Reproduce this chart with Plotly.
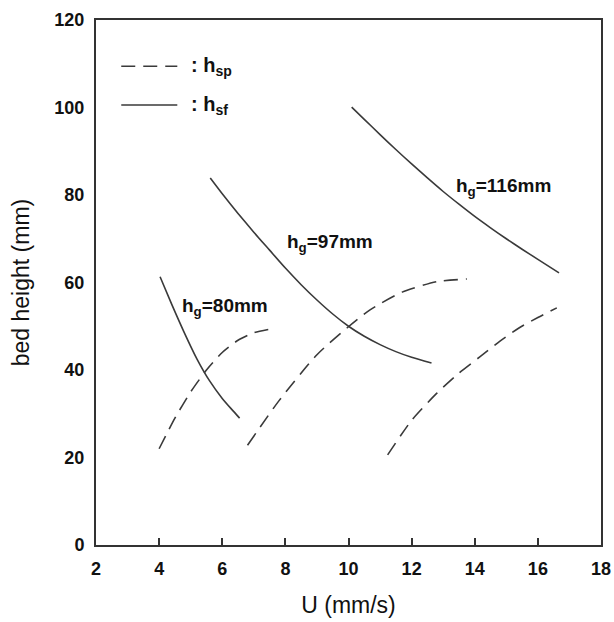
import plotly.graph_objects as go

# h_g = 80 mm
u80_sf = [4.03, 4.4, 4.8, 5.2, 5.6, 6.0, 6.3, 6.55]
h80_sf = [61.3, 55.0, 48.5, 42.5, 37.5, 33.5, 31.0, 29.0]
u80_sp = [4.0, 4.5, 5.0, 5.5, 6.0, 6.5, 7.0, 7.5]
h80_sp = [22.0, 29.0, 35.0, 40.0, 44.0, 46.8, 48.5, 49.3]

# h_g = 97 mm
u97_sf = [5.62, 6.0, 6.5, 7.0, 7.5, 8.0, 8.5, 9.0, 9.5, 10.0, 10.5, 11.0, 11.5, 12.0, 12.63]
h97_sf = [83.9, 80.3, 75.8, 71.5, 67.4, 63.3, 59.5, 56.0, 52.8, 50.0, 47.7, 45.8, 44.2, 42.9, 41.6]
u97_sp = [6.8, 7.8, 9.0, 9.95, 10.67, 11.7, 12.8, 13.75]
h97_sp = [22.8, 33.0, 43.5, 49.6, 53.7, 57.8, 60.2, 60.8]

# h_g = 116 mm
u116_sf = [10.1, 10.5, 11.0, 11.5, 12.0, 12.5, 13.0, 13.5, 14.0, 14.5, 15.0, 15.5, 16.0, 16.67]
h116_sf = [100.1, 97.3, 93.8, 90.4, 87.1, 83.9, 80.8, 77.9, 75.1, 72.5, 70.0, 67.6, 65.3, 62.2]
u116_sp = [11.24, 12.0, 12.8, 13.5, 14.16, 14.8, 15.4, 16.0, 16.6]
h116_sp = [20.6, 28.5, 34.7, 39.3, 43.0, 46.6, 49.6, 52.0, 54.2]

# labels
label_text = ["h<sub>g</sub>=80mm", "h<sub>g</sub>=97mm", "h<sub>g</sub>=116mm"]
label_u = [6.1, 9.4, 14.9]
label_h = [54.4, 69.0, 81.8]

legend_text = [": h<sub>sp</sub>", ": h<sub>sf</sub>"]

x_ticks = [2, 4, 6, 8, 10, 12, 14, 16, 18]
y_ticks = [0, 20, 40, 60, 80, 100, 120]

FONT = "Liberation Sans, Arial, Helvetica, sans-serif"
LINE = "#3a3a3a"
DASH = "14px,8px"

fig = go.Figure()
series = [
    (u80_sf, h80_sf, "solid"), (u80_sp, h80_sp, DASH),
    (u97_sf, h97_sf, "solid"), (u97_sp, h97_sp, DASH),
    (u116_sf, h116_sf, "solid"), (u116_sp, h116_sp, DASH),
]
for u, h, d in series:
    fig.add_trace(go.Scatter(x=u, y=h, mode="lines",
                             line=dict(color=LINE, width=1.6, dash=d, shape="spline", smoothing=0.6),
                             showlegend=False, hoverinfo="skip"))

for t, u, h in zip(label_text, label_u, label_h):
    fig.add_annotation(x=u, y=h, text="<b>" + t + "</b>", showarrow=False,
                       font=dict(family=FONT, size=19, color="#111"))

# legend (drawn manually)
leg_style = [(DASH, 0.912), ("solid", 0.838)]
for txt, (d, yp) in zip(legend_text, leg_style):
    fig.add_shape(type="line", xref="paper", yref="paper", x0=0.05, x1=0.161, y0=yp, y1=yp,
                  line=dict(color=LINE, width=1.6, dash=d))
    fig.add_annotation(xref="paper", yref="paper", x=0.185, y=yp, xanchor="left", yanchor="middle",
                       text="<b>" + txt + "</b>", showarrow=False,
                       font=dict(family=FONT, size=20, color="#111"))

axis_common = dict(showgrid=False, zeroline=False, showline=True, linecolor="#333", linewidth=2,
                   mirror=True, automargin=False,
                   tickfont=dict(family=FONT, size=18, color="#111", weight="bold"),
                   title_font=dict(family=FONT, size=23, color="#111"))

fig.update_xaxes(range=[2, 18], tickvals=x_ticks, ticks="inside", ticklen=7, tickwidth=1.5,
                 tickcolor="#333", ticklabelstandoff=6,
                 title_text="U (mm/s)", title_standoff=19, **axis_common)
fig.update_yaxes(range=[0, 120], tickvals=y_ticks, ticks="", ticklabelstandoff=6,
                 title_text="bed height (mm)", title_standoff=18, **axis_common)

fig.update_layout(width=614, height=622, margin=dict(l=96, r=13, t=20, b=77),
                  plot_bgcolor="white", paper_bgcolor="white")

fig.write_html("out.html", config={"displayModeBar": False},
               post_script="document.body.style.margin='0';document.body.style.overflow='hidden';")
